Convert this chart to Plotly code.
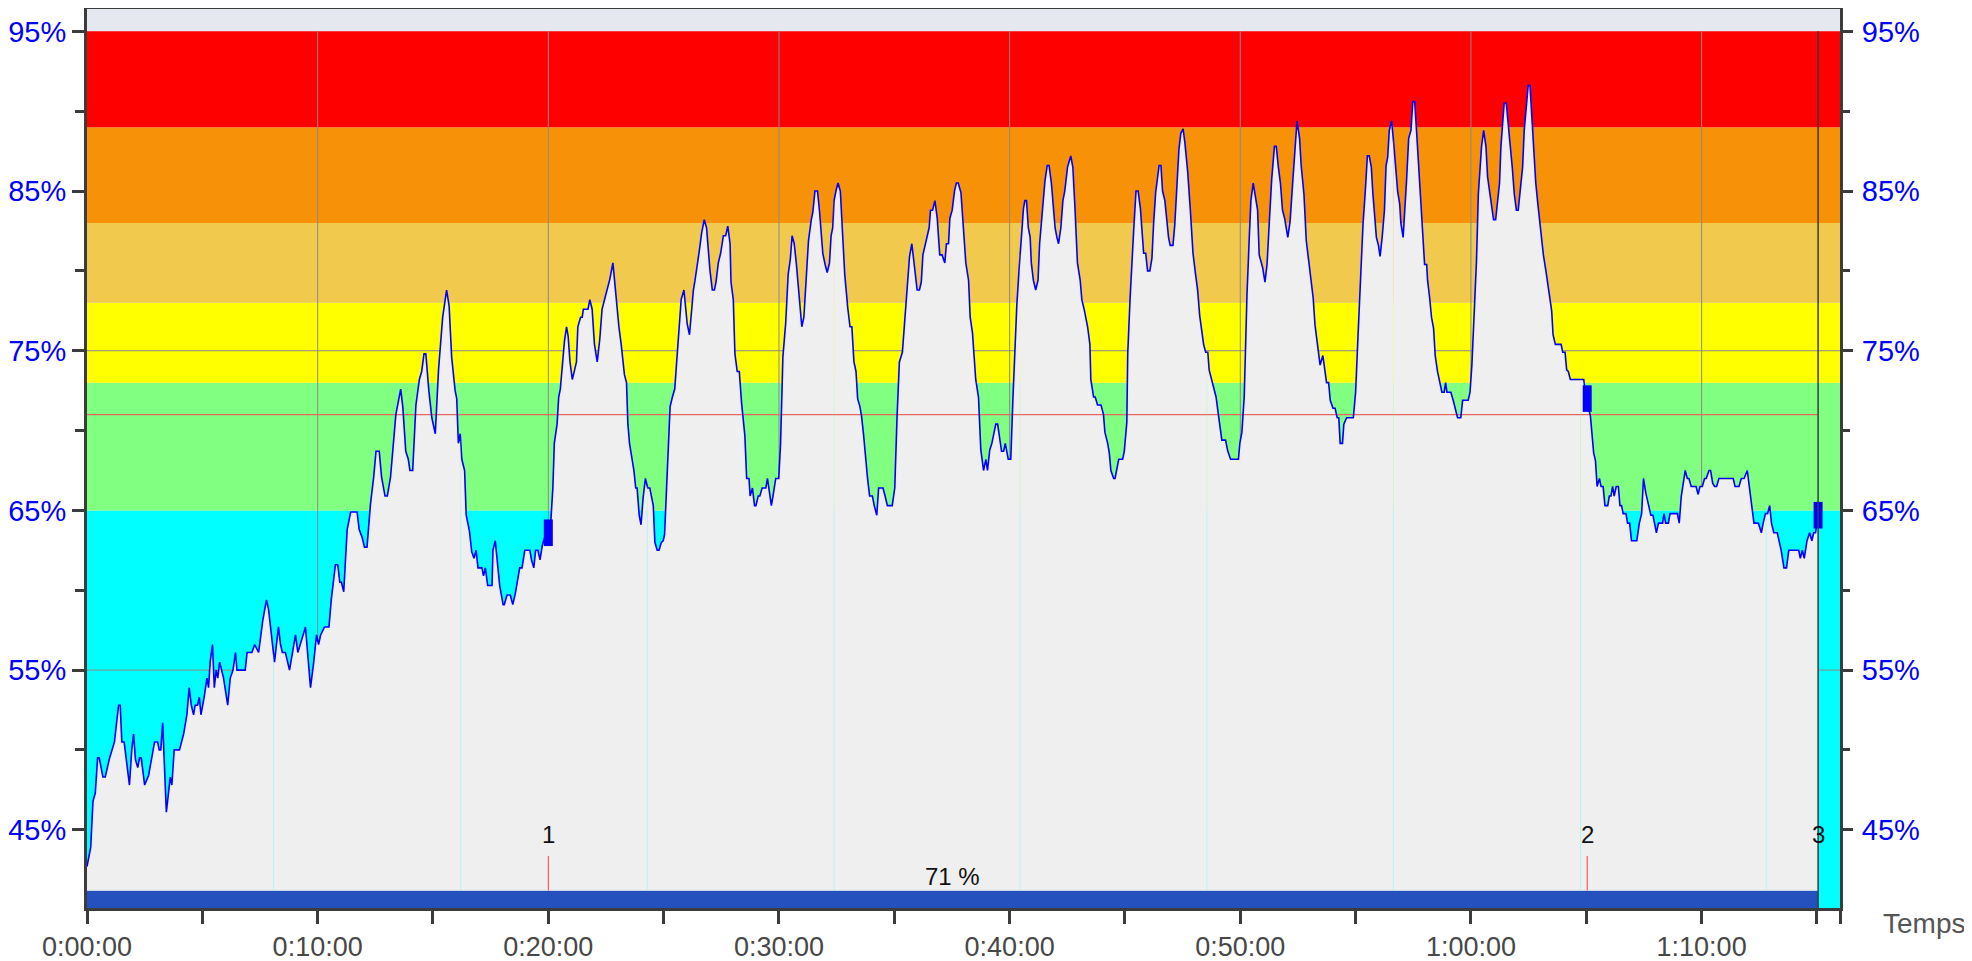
import numpy as np
import plotly.graph_objects as go

# ---------------- data ----------------
time_min = [
    0.0, 0.16, 0.26, 0.36, 0.46, 0.53, 0.69, 0.79, 0.98, 1.19,
    1.37, 1.44, 1.51, 1.61, 1.84, 1.94, 2.02, 2.1, 2.2, 2.28,
    2.35, 2.5, 2.67, 2.8, 2.93, 3.06, 3.13, 3.2, 3.28, 3.44,
    3.61, 3.68, 3.78, 4.01, 4.19, 4.33, 4.43, 4.52, 4.62, 4.69,
    4.79, 4.87, 4.94, 5.08, 5.2, 5.27, 5.34, 5.44, 5.52, 5.6,
    5.67, 5.75, 5.92, 6.1, 6.21, 6.33, 6.44, 6.5, 6.86, 6.94,
    7.15, 7.27, 7.44, 7.62, 7.78, 7.87, 7.95, 8.13, 8.3, 8.39,
    8.47, 8.6, 8.78, 8.96, 9.04, 9.14, 9.26, 9.37, 9.47, 9.62,
    9.69, 9.83, 9.95, 10.04, 10.13, 10.3, 10.49, 10.59, 10.77, 10.87,
    10.96, 11.03, 11.13, 11.28, 11.43, 11.71, 11.8, 11.93, 12.03, 12.14,
    12.29, 12.43, 12.53, 12.67,
    12.77, 12.92, 13.02, 13.16, 13.39, 13.6, 13.69, 13.82, 13.93, 14.0,
    14.12, 14.26, 14.41, 14.51, 14.61, 14.69, 14.82, 14.95, 15.1, 15.24,
    15.42, 15.59, 15.7, 15.81, 15.96, 16.03, 16.1, 16.18, 16.25, 16.37,
    16.44, 16.58, 16.68, 16.78, 16.87, 16.95, 17.12, 17.19, 17.27, 17.37,
    17.56, 17.6, 17.7, 17.89, 18.04, 18.09, 18.21, 18.35, 18.46, 18.57,
    18.76, 18.86, 18.98, 19.2, 19.27, 19.37, 19.45, 19.55, 19.64, 19.74,
    19.88, 20.02, 20.1, 20.2, 20.26, 20.38, 20.45, 20.52, 20.6, 20.7,
    20.79, 20.86, 20.94, 21.04, 21.14, 21.22, 21.28, 21.4, 21.47, 21.52,
    21.72, 21.8, 21.9, 22.0, 22.12, 22.23, 22.33, 22.53, 22.67, 22.8,
    22.91, 23.06, 23.16, 23.3, 23.39, 23.45, 23.52, 23.64, 23.71, 23.79,
    23.85, 23.94, 24.02, 24.11, 24.21, 24.31, 24.4, 24.55, 24.62, 24.72,
    24.8, 24.9, 24.98,
    25.04, 25.13, 25.28, 25.38, 25.48, 25.56, 25.66, 25.76, 25.88, 25.95,
    26.02, 26.12, 26.2, 26.29, 26.36, 26.46, 26.55, 26.65, 26.76, 26.86,
    26.94, 27.01, 27.11, 27.2, 27.27, 27.37, 27.47, 27.59, 27.69, 27.78,
    27.88, 27.92, 28.02, 28.09, 28.19, 28.28, 28.38, 28.52, 28.6, 28.7,
    28.75, 28.85, 28.94, 29.0, 29.1, 29.17, 29.27, 29.43, 29.5, 29.59,
    29.67, 29.74, 29.86, 29.99, 30.07, 30.17, 30.29, 30.4, 30.49, 30.57,
    30.66, 30.75, 30.82, 30.92, 30.99, 31.08, 31.18, 31.28, 31.4, 31.47,
    31.56, 31.67, 31.76, 31.83, 31.9, 32.0, 32.09, 32.19, 32.26, 32.33,
    32.39, 32.47, 32.56, 32.66, 32.74, 32.85, 32.98, 33.08, 33.16, 33.25,
    33.34, 33.41, 33.51, 33.58, 33.67, 33.76, 33.84, 33.93, 34.05, 34.13,
    34.24, 34.32, 34.51, 34.6, 34.7, 34.91, 35.02, 35.12, 35.22, 35.35,
    35.46, 35.56, 35.66, 35.76, 35.86, 35.99, 36.09, 36.17, 36.24, 36.34,
    36.42, 36.51, 36.57, 36.66, 36.76, 36.86, 36.97, 37.07, 37.19, 37.26,
    37.35, 37.41, 37.51, 37.61, 37.69, 37.77,
    37.89, 37.99, 38.1, 38.22, 38.29, 38.39, 38.53, 38.65, 38.75, 38.87,
    38.97, 39.04, 39.14, 39.23, 39.33, 39.4, 39.48, 39.58, 39.65, 39.74,
    39.81, 39.94, 40.05, 40.14, 40.23, 40.31, 40.41, 40.51, 40.6, 40.66,
    40.73, 40.81, 40.89, 40.94, 41.03, 41.13, 41.23, 41.3, 41.42, 41.53,
    41.63, 41.71, 41.81, 41.88, 41.97, 42.05, 42.12, 42.22, 42.31, 42.39,
    42.51, 42.65, 42.74, 42.83, 42.94, 43.06, 43.13, 43.23, 43.38, 43.48,
    43.52, 43.64, 43.71, 43.81, 43.96, 44.07, 44.13, 44.25, 44.32, 44.39,
    44.51, 44.57, 44.68, 44.73, 44.9, 44.97, 45.08, 45.12, 45.22, 45.31,
    45.38, 45.48, 45.57, 45.67, 45.74, 45.81, 45.9, 45.98, 46.08, 46.17,
    46.24, 46.33, 46.41, 46.48, 46.56, 46.63, 46.73, 46.82, 46.89, 46.96,
    47.08, 47.16, 47.25, 47.34, 47.42, 47.52, 47.6, 47.72, 47.83, 47.95,
    48.05, 48.15, 48.24, 48.34, 48.41, 48.5, 48.59, 48.65, 48.76, 48.85,
    48.95, 49.05, 49.2, 49.36, 49.46, 49.58, 49.92, 49.98,
    50.07, 50.17, 50.29, 50.39, 50.46, 50.56, 50.65, 50.75, 50.82, 50.89,
    50.97, 51.07, 51.16, 51.26, 51.36, 51.48, 51.56, 51.65, 51.74, 51.83,
    51.92, 52.06, 52.16, 52.28, 52.38, 52.46, 52.57, 52.64, 52.76, 52.86,
    52.96, 53.07, 53.16, 53.24, 53.36, 53.46, 53.58, 53.66, 53.74, 53.83,
    53.9, 54.02, 54.11, 54.2, 54.27, 54.33, 54.43, 54.49, 54.61, 54.9,
    55.0, 55.1, 55.2, 55.32, 55.42, 55.51, 55.59, 55.68, 55.75, 55.82,
    55.9, 55.99, 56.06, 56.15, 56.25, 56.32, 56.39, 56.46, 56.56, 56.65,
    56.75, 56.82, 56.91, 56.96, 57.06, 57.14, 57.21, 57.3, 57.4, 57.48,
    57.56, 57.64, 57.73, 57.83, 57.92, 57.99, 58.08, 58.12, 58.21, 58.29,
    58.38, 58.45, 58.55, 58.65, 58.74, 58.84, 58.9, 58.96, 59.13, 59.23,
    59.32, 59.42, 59.56, 59.64, 59.88, 59.96, 60.04, 60.14, 60.24, 60.32,
    60.39, 60.46, 60.55, 60.65, 60.72, 60.81, 60.89, 60.98, 61.07, 61.15,
    61.24, 61.3, 61.38, 61.44, 61.53, 61.62, 61.7, 61.79, 61.88, 61.97,
    62.05, 62.14, 62.24, 62.31, 62.4, 62.48, 62.56,
    62.68, 62.75, 62.81, 62.9, 62.97, 63.04, 63.14, 63.25, 63.33, 63.4,
    63.5, 63.56, 63.66, 63.91, 63.98, 64.08, 64.15, 64.22, 64.31, 64.89,
    64.99, 65.18, 65.25, 65.32, 65.4, 65.47, 65.57, 65.64, 65.73, 65.81,
    65.93, 66.0, 66.07, 66.14, 66.21, 66.3, 66.39, 66.46, 66.53, 66.6,
    66.72, 66.79, 66.88, 66.96, 67.19, 67.3, 67.4, 67.48, 67.58, 67.68,
    67.8, 67.89, 67.97, 68.04, 68.13, 68.31, 68.37, 68.44, 68.56, 68.63,
    68.95, 69.03, 69.12, 69.21, 69.29, 69.38, 69.45, 69.55, 69.76, 69.85,
    69.93, 70.03, 70.13, 70.2, 70.32, 70.39, 70.48, 70.56, 70.65, 70.75,
    71.37, 71.45, 71.62, 71.72, 71.84, 71.98, 72.08, 72.17, 72.27, 72.46,
    72.59, 72.67, 72.77, 72.86, 72.95, 73.03, 73.13, 73.28, 73.36, 73.45,
    73.57, 73.68, 73.78, 74.21, 74.28, 74.37, 74.45, 74.57, 74.68, 74.78,
    74.86, 74.94, 75.05,
]

hr_pct = [
    42.7, 43.9, 46.8, 47.3, 49.5, 49.5, 48.3, 48.3, 49.5, 50.5,
    52.8, 52.8, 50.5, 50.5, 47.8, 50.0, 51.0, 49.4, 48.9, 49.5,
    49.5, 47.8, 48.4, 49.5, 50.5, 50.5, 50.0, 50.0, 51.7, 46.1,
    48.3, 47.8, 50.0, 50.0, 51.0, 52.2, 53.9, 52.8, 52.2, 52.8,
    52.8, 53.3, 52.2, 53.3, 54.5, 53.9, 55.5, 56.6, 53.9, 55.0,
    54.5, 55.5, 54.5, 52.8, 54.5, 55.0, 56.1, 55.0, 55.0, 56.1,
    56.1, 56.6, 56.1, 58.1, 59.4, 58.8, 57.7, 55.5, 57.7, 56.6,
    56.1, 56.1, 55.0, 56.6, 57.2, 56.1, 56.6, 57.2, 57.7, 55.0,
    53.9, 55.5, 57.2, 56.6, 57.2, 57.7, 57.7, 59.4, 61.6, 61.6,
    60.5, 60.5, 59.9, 63.8, 64.9, 64.9, 63.8, 63.3, 62.7, 62.7,
    65.4, 67.1, 68.7, 68.7,
    67.1, 65.9, 65.9, 67.1, 71.0, 72.6, 71.5, 68.7, 68.2, 67.5,
    67.5, 71.6, 73.2, 73.7, 74.8, 74.8, 72.5, 70.8, 69.8, 73.8,
    77.1, 78.8, 77.8, 74.6, 72.5, 72.0, 69.2, 69.8, 68.2, 67.5,
    64.7, 63.7, 62.4, 62.0, 62.5, 61.4, 61.4, 60.9, 61.4, 60.3,
    60.3, 62.5, 63.1, 60.3, 59.1, 59.1, 59.7, 59.7, 59.1, 59.8,
    61.4, 61.4, 62.5, 62.5, 61.9, 61.4, 62.5, 62.5, 61.9, 62.8,
    63.5, 63.6, 64.1, 66.5, 69.2, 70.4, 72.1, 72.6, 74.2, 75.6,
    76.5, 75.9, 74.3, 73.2, 73.8, 74.3, 76.5, 77.1, 77.1, 77.6,
    77.6, 78.2, 77.6, 75.4, 74.3, 75.7, 77.6, 78.8, 79.5, 80.5,
    78.6, 76.5, 75.4, 73.5, 73.0, 70.4, 69.2, 68.1, 67.5, 66.4,
    66.4, 64.7, 64.1, 65.8, 67.0, 66.4, 66.4, 65.3, 63.0, 62.5,
    62.5, 63.0, 63.1,
    63.5, 66.7, 71.5, 72.1, 72.6, 74.2, 76.3, 78.2, 78.8, 77.6,
    76.7, 76.0, 77.6, 78.8, 79.4, 80.6, 81.3, 82.4, 83.2, 82.7,
    81.0, 80.0, 78.8, 78.8, 79.3, 80.5, 81.1, 82.2, 82.2, 82.8,
    81.7, 79.3, 78.2, 74.8, 73.7, 73.7, 71.7, 69.7, 67.0, 67.0,
    65.9, 66.4, 65.3, 65.3, 65.9, 65.9, 66.4, 66.4, 67.0, 65.9,
    65.3, 65.9, 67.0, 67.0, 69.2, 74.6, 76.7, 79.8, 80.7, 82.2,
    81.7, 80.5, 79.4, 77.8, 76.5, 77.1, 79.4, 81.9, 83.2, 83.7,
    85.0, 85.0, 83.7, 82.2, 81.1, 80.4, 79.9, 80.5, 82.2, 82.7,
    84.4, 85.0, 85.5, 85.0, 82.7, 79.8, 77.7, 76.5, 76.5, 74.3,
    73.7, 72.0, 71.5, 70.9, 69.7, 68.1, 67.0, 65.9, 65.9, 65.3,
    64.7, 66.4, 66.4, 65.9, 65.3, 65.3, 66.4, 70.9, 74.3, 74.9,
    77.1, 79.3, 80.9, 81.7, 80.5, 78.8, 78.8, 79.3, 81.0, 81.7,
    82.2, 82.7, 83.8, 83.8, 84.4, 83.3, 81.0, 81.0, 80.5, 81.7,
    81.7, 83.3, 83.8, 85.0, 85.5, 85.5,
    84.9, 82.8, 80.5, 79.4, 77.1, 76.1, 73.2, 72.1, 68.8, 67.5,
    68.2, 67.5, 68.8, 69.2, 69.9, 70.4, 70.4, 69.4, 68.7, 68.7,
    69.2, 68.2, 68.2, 71.9, 75.0, 77.8, 80.1, 82.4, 83.9, 84.4,
    84.4, 82.7, 82.1, 80.5, 79.4, 78.8, 79.4, 81.7, 83.9, 85.6,
    86.6, 86.6, 85.5, 84.2, 82.7, 82.1, 81.7, 82.7, 84.4, 85.0,
    86.5, 87.2, 86.5, 84.0, 80.5, 79.4, 78.2, 77.6, 76.5, 75.4,
    73.2, 72.1, 72.1, 71.6, 71.6, 71.0, 69.9, 69.2, 68.6, 67.5,
    67.0, 67.0, 67.8, 68.2, 68.2, 68.7, 70.5, 74.8, 78.2, 81.1,
    82.6, 85.0, 85.0, 83.9, 82.6, 81.1, 81.1, 80.0, 80.0, 80.8,
    82.9, 84.9, 85.8, 86.6, 86.6, 85.0, 84.4, 83.0, 82.1, 81.6,
    81.6, 82.9, 85.3, 87.6, 88.6, 88.9, 88.0, 86.2, 83.9, 81.1,
    79.9, 78.8, 77.2, 76.1, 75.4, 74.9, 74.9, 73.8, 73.2, 72.6,
    72.1, 71.0, 69.4, 69.4, 68.7, 68.2, 68.2, 69.2,
    69.9, 72.1, 78.5, 82.1, 84.4, 85.5, 84.8, 83.8, 81.0, 80.6,
    80.2, 79.3, 80.4, 83.1, 85.7, 87.8, 87.8, 86.5, 85.5, 83.8,
    83.3, 82.1, 83.1, 85.7, 87.8, 89.4, 88.3, 86.6, 84.8, 81.9,
    80.7, 79.4, 78.3, 76.6, 75.2, 74.1, 74.7, 73.7, 73.0, 73.0,
    71.9, 71.4, 71.4, 70.8, 70.8, 69.2, 69.2, 70.4, 70.8, 70.8,
    72.4, 75.8, 79.4, 82.9, 85.0, 87.2, 87.2, 86.5, 84.8, 83.6,
    82.1, 81.6, 80.9, 82.1, 83.8, 86.6, 87.1, 88.8, 89.4, 88.0,
    86.5, 85.0, 84.2, 83.0, 82.1, 83.8, 85.7, 88.3, 88.8, 90.6,
    90.6, 88.8, 86.5, 84.0, 81.9, 80.4, 80.4, 79.4, 78.3, 77.1,
    76.4, 74.7, 73.7, 73.0, 72.4, 72.4, 73.0, 72.4, 72.4, 71.9,
    71.4, 70.8, 70.8, 71.9, 71.9, 72.4, 74.1, 77.2, 80.6, 84.8,
    86.5, 87.8, 88.8, 87.8, 85.9, 85.0, 84.3, 83.2, 83.2, 84.4,
    85.5, 87.8, 89.4, 90.5, 90.5, 89.2, 87.9, 86.5, 84.8, 83.8,
    83.8, 85.0, 86.5, 88.8, 90.1, 91.6, 91.6,
    88.8, 86.7, 85.5, 84.2, 83.2, 82.1, 81.0, 80.0, 79.2, 78.4,
    77.5, 76.0, 75.4, 75.4, 74.9, 74.9, 73.8, 73.7, 73.2, 73.2,
    72.0, 70.9, 69.6, 68.6, 68.1, 66.5, 67.0, 66.5, 66.5, 65.3,
    65.3, 65.9, 65.9, 66.5, 65.9, 66.5, 66.5, 65.3, 65.3, 64.8,
    64.8, 64.2, 64.2, 63.1, 63.1, 64.2, 64.8, 67.0, 66.1, 65.4,
    64.7, 64.7, 64.2, 63.6, 64.2, 64.2, 64.8, 64.2, 64.2, 64.8,
    64.8, 64.2, 65.9, 66.9, 67.5, 67.0, 67.0, 66.5, 66.5, 66.0,
    66.5, 66.5, 67.0, 67.0, 67.5, 67.5, 66.7, 66.5, 66.5, 67.0,
    67.0, 66.5, 66.5, 67.0, 67.0, 67.5, 66.4, 65.3, 64.2, 64.2,
    63.6, 64.2, 64.8, 64.8, 65.3, 64.2, 63.6, 63.6, 63.1, 62.5,
    61.4, 61.4, 62.5, 62.5, 62.0, 62.5, 62.0, 63.1, 63.6, 63.1,
    63.6, 63.6, 64.7,
]

lap_times = [20.0, 65.04, 75.05]
lap_hr = [63.6, 72.0, 64.7]
lap_labels = ["1", "2", "3"]
km_times = [8.09, 16.2, 24.29, 32.39, 40.45, 48.55, 56.64, 64.75, 72.8]
avg_pct = 71
avg_label = "71 %"

zone_lo = [0, 65, 73, 78, 83, 89]
zone_hi = [65, 73, 78, 83, 89, 95]
zone_colors = ["#00ffff", "#80ff80", "#ffff00", "#f1c94c", "#f79208", "#ff0000"]

x_tickvals = [0, 10, 20, 30, 40, 50, 60, 70]
x_ticktext = ["0:00:00", "0:10:00", "0:20:00", "0:30:00", "0:40:00",
              "0:50:00", "1:00:00", "1:10:00"]
x_minor_vals = [5, 15, 25, 35, 45, 55, 65, 75, 76]
y_tickvals = [45, 55, 65, 75, 85, 95]
y_ticktext = ["45%", "55%", "65%", "75%", "85%", "95%"]
y_minor_vals = [40, 50, 60, 70, 80, 90]
h_grid = [55, 75]

X_RANGE = [0, 76]
Y_RANGE = [40.1, 96.4]
BAR_TOP = 41.2
LAP_LINE_TOP = 43.35
LAP_LABEL_Y = 44.68

FONT = "Liberation Sans, Arial, Helvetica, sans-serif"
AXIS_COL = "#3c3c3c"

t_arr = np.array(time_min)
v_arr = np.array(hr_pct)
t_end = time_min[-1]

shapes = []
# zone bands
for lo, hi, col in zip(zone_lo, zone_hi, zone_colors):
    shapes.append(dict(type="rect", xref="x", yref="y", x0=X_RANGE[0], x1=X_RANGE[1],
                       y0=lo, y1=hi, fillcolor=col, line=dict(width=0), layer="below"))
# grid lines (hidden under the gray fill)
for t in x_tickvals[1:]:
    shapes.append(dict(type="line", xref="x", yref="y", x0=t, x1=t, y0=Y_RANGE[0], y1=95,
                       line=dict(color="#8a8a8a", width=1), layer="below"))
for h in h_grid:
    shapes.append(dict(type="line", xref="x", yref="y", x0=X_RANGE[0], x1=X_RANGE[1], y0=h, y1=h,
                       line=dict(color="#8a8a8a", width=1), layer="below"))
# faint km seams under the curve
for kt in km_times:
    v = float(np.interp(kt, t_arr, v_arr))
    for lo, hi, col in zip(zone_lo, zone_hi, zone_colors):
        top = min(hi, v)
        bot = max(lo, BAR_TOP)
        if top > bot:
            shapes.append(dict(type="line", xref="x", yref="y", x0=kt, x1=kt, y0=bot, y1=top,
                               line=dict(color=col, width=1), opacity=0.22, layer="above"))
# bottom summary bar
shapes.append(dict(type="rect", xref="x", yref="y", x0=time_min[0], x1=t_end,
                   y0=Y_RANGE[0] - 1, y1=BAR_TOP, fillcolor="#2451bd",
                   line=dict(width=0), layer="above"))
shapes.append(dict(type="line", xref="x", yref="y", x0=time_min[0], x1=t_end,
                   y0=BAR_TOP, y1=BAR_TOP, line=dict(color="#cdd6ea", width=1), layer="above"))
# lap ticks
for lt in lap_times[:-1]:
    shapes.append(dict(type="line", xref="x", yref="y", x0=lt, x1=lt, y0=BAR_TOP, y1=LAP_LINE_TOP,
                       line=dict(color="#ff3b3b", width=1), layer="above"))
# end-of-data line
shapes.append(dict(type="line", xref="x", yref="y", x0=t_end, x1=t_end, y0=Y_RANGE[0], y1=95,
                   line=dict(color="#3a3a3a", width=1.5), layer="above"))

fig = go.Figure()
fig.add_trace(go.Scatter(x=time_min, y=hr_pct, mode="lines", fill="tozeroy",
                         fillcolor="#efefef", line=dict(width=0, color="rgba(0,0,0,0)"),
                         hoverinfo="skip", showlegend=False))
fig.add_trace(go.Scatter(x=[time_min[0], t_end], y=[avg_pct, avg_pct], mode="lines",
                         line=dict(color="#e8675c", width=1.4), hoverinfo="skip", showlegend=False))
fig.add_trace(go.Scatter(x=time_min, y=hr_pct, mode="lines",
                         line=dict(color="#0000ff", width=1.6), showlegend=False))
fig.add_trace(go.Scatter(x=lap_times, y=lap_hr, mode="markers",
                         marker=dict(symbol="line-ns", size=19, color="#0000ff",
                                     line=dict(color="#0000ff", width=9)),
                         showlegend=False))
fig.add_trace(go.Scatter(x=[X_RANGE[0]], y=[Y_RANGE[0]], yaxis="y2", mode="markers",
                         marker=dict(opacity=0), hoverinfo="skip", showlegend=False))

annotations = [dict(x=t_end / 2, y=BAR_TOP + 0.87, xref="x", yref="y", text=avg_label,
                    showarrow=False, font=dict(family=FONT, size=24, color="#111111"),
                    xanchor="center", yanchor="middle")]
for lt, lab in zip(lap_times, lap_labels):
    annotations.append(dict(x=lt, y=LAP_LABEL_Y, xref="x", yref="y", text=lab, showarrow=False,
                            font=dict(family=FONT, size=24, color="#111111"),
                            xanchor="center", yanchor="middle"))
annotations.append(dict(x=1.0234, y=-0.0167, xref="paper", yref="paper", text="Temps",
                        showarrow=False, font=dict(family=FONT, size=28, color="#555555"),
                        xanchor="left", yanchor="middle"))

yaxis_common = dict(range=Y_RANGE, tickmode="array", tickvals=y_tickvals, ticktext=y_ticktext,
                    ticks="outside", ticklen=12, tickwidth=2.5, tickcolor=AXIS_COL,
                    tickfont=dict(family=FONT, size=29, color="#0000ff"),
                    showgrid=False, zeroline=False, automargin=False,
                    minor=dict(tickmode="array", tickvals=y_minor_vals, ticks="outside",
                               ticklen=9, tickwidth=2.5, tickcolor=AXIS_COL, showgrid=False))

# the page body has an 8px margin, so the figure is sized to fill the rest of the window
fig.update_layout(
    width=1964, height=953,
    margin=dict(l=79, r=132, t=1, b=53),
    paper_bgcolor="#ffffff", plot_bgcolor="#e5e8ee",
    showlegend=False, shapes=shapes, annotations=annotations,
    xaxis=dict(range=X_RANGE, tickmode="array", tickvals=x_tickvals, ticktext=x_ticktext,
               ticks="outside", ticklen=13, tickwidth=2.5, tickcolor=AXIS_COL,
               tickfont=dict(family=FONT, size=27, color="#474747"),
               showline=True, linecolor=AXIS_COL, linewidth=3, mirror=True,
               showgrid=False, zeroline=False, ticklabelstandoff=0, automargin=False,
               minor=dict(tickmode="array", tickvals=x_minor_vals, ticks="outside",
                          ticklen=13, tickwidth=2.5, tickcolor=AXIS_COL, showgrid=False)),
    yaxis=dict(**yaxis_common, side="left", showline=True, linecolor=AXIS_COL,
               linewidth=3, mirror=True, ticklabelstandoff=0),
    yaxis2=dict(**yaxis_common, side="right", overlaying="y", showline=False,
                ticklabelstandoff=3),
)

fig.write_html("out.html")
